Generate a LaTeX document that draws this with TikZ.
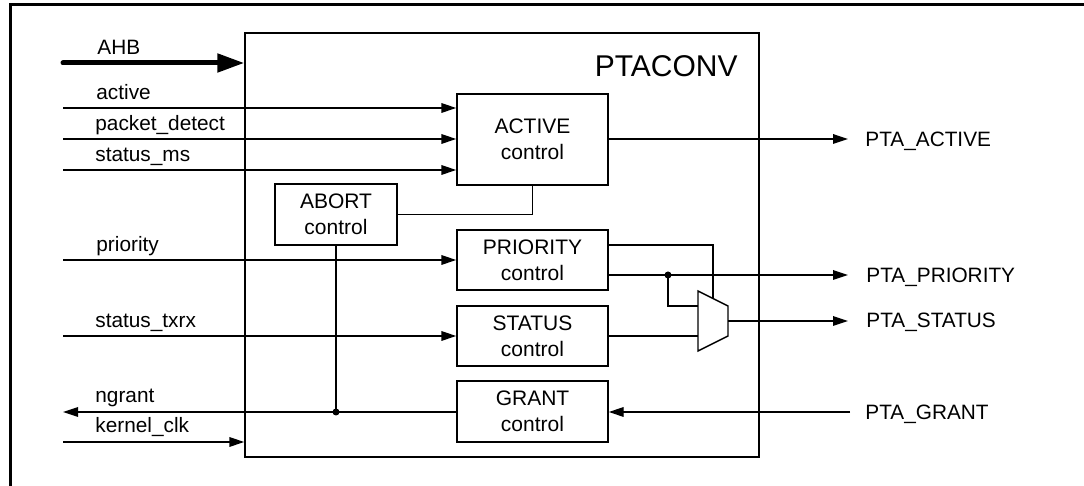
\documentclass[tikz,border=0pt]{standalone}
\usepackage{fontspec}
\setmainfont{Liberation Sans}
\usetikzlibrary{arrows.meta}
\begin{document}
\begin{tikzpicture}[x=0.5pt,y=-0.5pt,
  wire/.style={line width=0.7pt},
  sig/.style={wire,-{Triangle[length=7.5pt,width=4.8pt]}},
  bus/.style={line width=2.5pt,line cap=round,-{Triangle[length=13.5pt,width=9pt]}},
  blk/.style={draw,line width=0.7pt,align=center,inner sep=0pt,
    font=\fontsize{10.5}{13.2}\selectfont},
  lbl/.style={inner sep=0pt,font=\fontsize{10.4}{12}\selectfont},
  dot/.style={circle,fill,inner sep=0pt,minimum size=3.5pt}
]
\useasboundingbox (0,0) rectangle (1084,486);
% outer frame (left and top only)
\draw[line width=1.5pt] (10.7,486) -- (10.7,4.3) -- (1084,4.3);

% main block
\node[blk,minimum width=257pt,minimum height=212pt] (ptaconv) at (502,245) {};
\node[lbl,anchor=base east,font=\fontsize{15}{18}\selectfont] (title) at (738,77) {PTACONV};

% inner blocks
\node[blk,minimum width=75.5pt,minimum height=45.5pt] (active) at (532.5,139.5) {ACTIVE\\control};
\node[blk,minimum width=61pt,minimum height=30.5pt] (abort) at (336,214.5) {ABORT\\control};
\node[blk,minimum width=75.5pt,minimum height=30pt] (priority) at (532.5,260) {PRIORITY\\control};
\node[blk,minimum width=75.5pt,minimum height=30pt] (status) at (532.5,336) {STATUS\\control};
\node[blk,minimum width=75.5pt,minimum height=30.5pt] (grant) at (532.5,411.5) {GRANT\\control};

% multiplexer
\coordinate (muxTL) at (698,291);
\coordinate (muxBL) at (698,351);
\coordinate (muxTR) at (728,306);
\coordinate (muxBR) at (728,336);
\draw[wire,line join=miter] (muxTL) -- (muxTR) -- (muxBR) -- (muxBL) -- cycle;
\coordinate (muxIn1) at (698,306);
\coordinate (muxIn2) at (698,336);
\coordinate (muxSel) at (713,298.5);
\coordinate (muxOut) at (728,321);

% left signal ends
\coordinate (ahbL) at (63,63);
\coordinate (actL) at (63,108);
\coordinate (pdL) at (63,139);
\coordinate (smsL) at (63,170);
\coordinate (priL) at (63,260);
\coordinate (txrxL) at (63,336);
\coordinate (ngL) at (63,412);
\coordinate (clkL) at (63,442);

% right signal ends
\coordinate (paR) at (848,139);
\coordinate (ppR) at (848,275);
\coordinate (psR) at (848,321);
\coordinate (pgR) at (850,412);

% left labels
\node[lbl,anchor=base west] (lahb) at (97,55) {AHB};
\node[lbl,anchor=base west] (lact) at (96,100) {active};
\node[lbl,anchor=base west] (lpd) at (95,131) {packet\_detect};
\node[lbl,anchor=base west] (lsms) at (95,162) {status\_ms};
\node[lbl,anchor=base west] (lpri) at (96,252) {priority};
\node[lbl,anchor=base west] (ltxrx) at (95,328) {status\_txrx};
\node[lbl,anchor=base west] (lng) at (95,403) {ngrant};
\node[lbl,anchor=base west] (lclk) at (95,433) {kernel\_clk};

% right labels
\node[lbl,anchor=base west] (rpa) at (865,146.5) {PTA\_ACTIVE};
\node[lbl,anchor=base west] (rpp) at (866,282.5) {PTA\_PRIORITY};
\node[lbl,anchor=base west] (rps) at (866,328) {PTA\_STATUS};
\node[lbl,anchor=base west] (rpg) at (865,419.5) {PTA\_GRANT};

% inputs
\draw[bus] (ahbL) -- (ahbL -| ptaconv.west);
\draw[sig] (actL) -- (actL -| active.west);
\draw[sig] (pdL) -- (pdL -| active.west);
\draw[sig] (smsL) -- (smsL -| active.west);
\draw[sig] (priL) -- (priL -| priority.west);
\draw[sig] (txrxL) -- (txrxL -| status.west);
\draw[sig] (clkL) -- (clkL -| ptaconv.west);

% active
\draw[sig] (active.east |- paR) -- (paR);
\draw[wire] (abort.east) -| (active.south);

% priority
\coordinate (priHi) at (608,245);
\coordinate (priLo) at (608,275);
\draw[wire] (priority.east |- priHi) -| (muxSel);
\draw[sig] (priority.east |- priLo) -- (ppR);
\node[dot] (pdot) at (668,275) {};
\draw[wire] (pdot.center) |- (muxIn1);

% status
\draw[wire] (status.east |- muxIn2) -- (muxIn2);
\draw[sig] (muxOut) -- (psR);

% grant
\draw[sig] (pgR) -- (pgR -| grant.east);
\draw[sig] (grant.west |- ngL) -- (ngL);
\node[dot] (gdot) at (336,412) {};
\draw[wire] (abort.south) -- (gdot.center);
\end{tikzpicture}
\end{document}
